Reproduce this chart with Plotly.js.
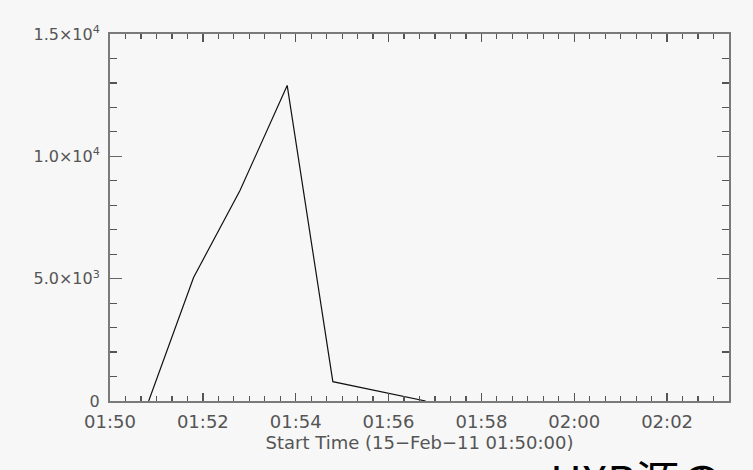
<!DOCTYPE html>
<html>
<head>
<meta charset="utf-8">
<script src="https://cdn.plot.ly/plotly-3.0.1.min.js"></script>
<style>
  html, body { margin: 0; padding: 0; background: #f7f7f7; }
  #chart { width: 753px; height: 470px; }
</style>
</head>
<body>
<div id="chart"></div>
<script>
// HXR count-rate light curve, 15-Feb-2011
const times = [
  '2011-02-15 01:50:50',
  '2011-02-15 01:51:48',
  '2011-02-15 01:52:48',
  '2011-02-15 01:53:49',
  '2011-02-15 01:54:48',
  '2011-02-15 01:55:48',
  '2011-02-15 01:56:48'
];
const counts = [0, 5050, 8600, 12900, 790, 400, 0];

const yTickVals = [0, 5000, 10000, 15000];
const yTickText = ['0', '5.0×10<sup>3</sup>', '1.0×10<sup>4</sup>', '1.5×10<sup>4</sup>'];

const axisFont = 'DejaVu Sans, sans-serif';

const trace = {
  x: times,
  y: counts,
  type: 'scatter',
  mode: 'lines',
  line: { color: '#111111', width: 1.2 },
  hoverinfo: 'skip'
};

const layout = {
  width: 753,
  height: 470,
  margin: { l: 110, r: 24, t: 34, b: 69 },
  paper_bgcolor: '#f7f7f7',
  plot_bgcolor: '#f7f7f7',
  showlegend: false,
  xaxis: {
    type: 'date',
    range: ['2011-02-15 01:50:00', '2011-02-15 02:03:20'],
    tick0: '2011-02-15 01:50:00',
    dtick: 120000,
    tickformat: '%H:%M',
    ticks: 'inside',
    ticklen: 8,
    tickwidth: 1.5,
    tickcolor: '#555555',
    minor: { dtick: 20000, ticks: 'inside', ticklen: 5, tickwidth: 1.2, tickcolor: '#555555', showgrid: false },
    showline: true,
    linecolor: '#7a7a7a',
    linewidth: 2,
    mirror: 'ticks',
    showgrid: false,
    zeroline: false,
    ticklabelstandoff: 3,
    tickfont: { family: axisFont, size: 18, color: '#555555' },
    title: {
      text: 'Start Time (15−Feb−11 01:50:00)',
      font: { family: axisFont, size: 18, color: '#555555' },
      standoff: 0
    }
  },
  yaxis: {
    range: [0, 15000],
    tickvals: yTickVals,
    ticktext: yTickText,
    ticks: 'inside',
    ticklen: 12,
    tickwidth: 1.5,
    tickcolor: '#666666',
    minor: { dtick: 1000, ticks: 'inside', ticklen: 7, tickwidth: 1.2, tickcolor: '#555555', showgrid: false },
    showline: true,
    linecolor: '#7a7a7a',
    linewidth: 2,
    mirror: 'ticks',
    showgrid: false,
    zeroline: false,
    ticklabelstandoff: 5,
    tickfont: { family: axisFont, size: 16, color: '#555555' }
  },
  annotations: [
    {
      text: 'HXR源の',
      xref: 'paper', yref: 'paper',
      x: (548 - 110) / 619, y: (401 - 445) / 367,
      xanchor: 'left', yanchor: 'top',
      showarrow: false,
      font: { family: 'Noto Sans CJK JP, sans-serif', size: 44, color: '#000000' }
    }
  ]
};

Plotly.newPlot('chart', [trace], layout, { staticPlot: true, displayModeBar: false });
</script>
</body>
</html>
